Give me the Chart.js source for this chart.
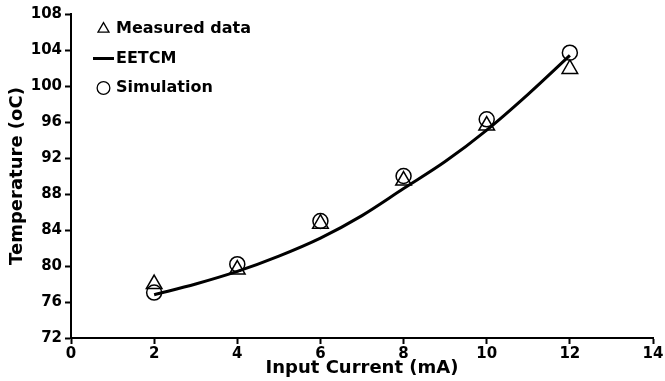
<!DOCTYPE html>
<html>
<head>
<meta charset="utf-8">
<script src="https://cdn.jsdelivr.net/npm/chart.js@4/dist/chart.umd.min.js"></script>
<style>
  html, body { margin: 0; padding: 0; background: #fff; }
  #wrap { width: 665px; height: 381px; }
</style>
</head>
<body>
<div id="wrap"><canvas id="chart"></canvas></div>
<script>
var currentX = [2, 4, 6, 8, 10, 12];
var measured = [78.0, 79.6, 84.7, 89.5, 95.6, 101.9];
var simulation = [77.05, 80.2, 85.0, 90.0, 96.3, 103.7];
var modelX = [2, 3, 4, 5, 6, 7, 8, 9, 10, 11, 12];
var modelY = [76.8, 78.0, 79.4, 81.1, 83.1, 85.6, 88.6, 91.6, 95.1, 99.1, 103.4];
var xTicks = [0, 2, 4, 6, 8, 10, 12, 14];
var yTicks = [72, 76, 80, 84, 88, 92, 96, 100, 104, 108];

function pts(xs, ys) {
  return xs.map(function (x, i) { return { x: x, y: ys[i] }; });
}

var font = "'DejaVu Sans', sans-serif";

// short thick dash used as the legend symbol for the model curve
var dash = document.createElement("canvas");
dash.width = 21;
dash.height = 3;
dash.getContext("2d").fillRect(0, 0, 21, 3);

// put the legend in the upper left corner, inside the plot
var legendSpot = {
  id: "legendSpot",
  afterLayout: function (chart) {
    var lg = chart.legend;
    var w = lg.width, h = lg.height;
    lg.left = 85.5;
    lg.top = 7.5;
    lg.right = lg.left + w;
    lg.bottom = lg.top + h;
  }
};

var ctx = document.getElementById("chart").getContext("2d");

new Chart(ctx, {
  type: "scatter",
  data: {
    datasets: [
      {
        label: "Measured data",
        data: pts(currentX, measured),
        pointStyle: "triangle",
        pointRadius: 9,
        pointBorderWidth: 1.5,
        borderColor: "#000",
        backgroundColor: "rgba(0,0,0,0)",
        showLine: false
      },
      {
        label: "EETCM",
        data: pts(modelX, modelY),
        pointStyle: "line",
        pointRadius: 0,
        borderColor: "#000",
        backgroundColor: "#000",
        borderWidth: 3,
        showLine: true,
        cubicInterpolationMode: "monotone"
      },
      {
        label: "Simulation",
        data: pts(currentX, simulation),
        pointStyle: "circle",
        pointRadius: 7.5,
        pointBorderWidth: 1.5,
        borderColor: "#000",
        backgroundColor: "rgba(0,0,0,0)",
        showLine: false
      }
    ]
  },
  plugins: [legendSpot],
  options: {
    responsive: true,
    maintainAspectRatio: false,
    animation: false,
    layout: { padding: { top: 14, right: 12, left: 0, bottom: 0 } },
    plugins: {
      tooltip: { enabled: false },
      legend: {
        position: "chartArea",
        align: "start",
        labels: {
          usePointStyle: true,
          boxWidth: 9,
          boxHeight: 9,
          padding: 13.5,
          color: "#000",
          font: { family: font, size: 16, weight: "bold" },
          generateLabels: function (chart) {
            var items = Chart.defaults.plugins.legend.labels.generateLabels(chart);
            items.forEach(function (it) {
              it.lineWidth = 1.3;
              it.fillStyle = "rgba(0,0,0,0)";
              if (it.text === "EETCM") it.pointStyle = dash;
            });
            return items;
          }
        }
      }
    },
    scales: {
      x: {
        type: "linear",
        min: 0,
        max: 14,
        afterFit: function (s) { s.height = 43; },
        afterBuildTicks: function (s) {
          s.ticks = xTicks.map(function (v) { return { value: v }; });
        },
        border: { display: true, color: "#000", width: 2 },
        grid: {
          display: true,
          drawOnChartArea: false,
          drawTicks: true,
          tickLength: 6,
          tickWidth: 2,
          tickColor: "#000"
        },
        ticks: {
          color: "#000",
          padding: 1,
          maxRotation: 0,
          font: { family: font, size: 15, weight: "bold" }
        },
        title: {
          display: true,
          text: "Input Current (mA)",
          color: "#000",
          padding: { top: 0, bottom: 2 },
          font: { family: font, size: 18, weight: "bold" }
        }
      },
      y: {
        type: "linear",
        min: 72,
        max: 108,
        afterFit: function (s) { s.width = 71; },
        afterBuildTicks: function (s) {
          s.ticks = yTicks.map(function (v) { return { value: v }; });
        },
        border: { display: true, color: "#000", width: 2 },
        grid: {
          display: true,
          drawOnChartArea: false,
          drawTicks: true,
          tickLength: 6,
          tickWidth: 2,
          tickColor: "#000"
        },
        ticks: {
          color: "#000",
          padding: 3,
          font: { family: font, size: 15, weight: "bold" }
        },
        title: {
          display: true,
          text: "Temperature (oC)",
          color: "#000",
          padding: { top: 7, bottom: 0 },
          font: { family: font, size: 18, weight: "bold" }
        }
      }
    }
  }
});
</script>
</body>
</html>
